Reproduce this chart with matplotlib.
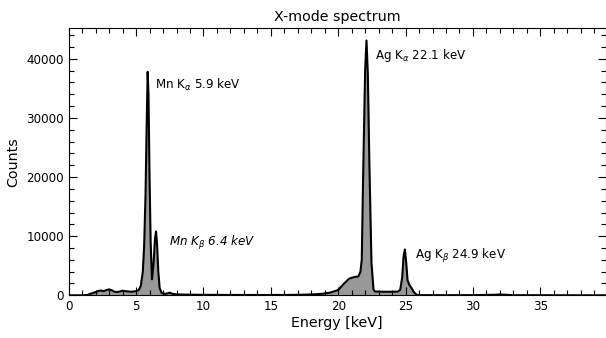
import numpy as np
import matplotlib.pyplot as plt
from matplotlib.ticker import MultipleLocator

plt.rcParams['font.family'] = 'DejaVu Sans'

# spectrum: energy (keV) and counts
energy = [0.0, 1.0, 1.4, 1.6, 1.8, 2.0, 2.2, 2.4, 2.6, 2.8, 3.0, 3.2, 3.4, 3.6, 3.8,
          4.0, 4.2, 4.4, 4.6, 4.8, 5.0, 5.2, 5.35, 5.5, 5.6, 5.7, 5.78, 5.86, 5.92,
          6.0, 6.08, 6.18, 6.3, 6.4, 6.48, 6.56, 6.65, 6.75, 6.9, 7.1, 7.3, 7.5,
          7.7, 8.0, 9.0, 10.0, 12.0, 14.0, 16.0, 17.0, 18.0, 18.8, 19.4, 20.0,
          20.4, 20.8, 21.2, 21.5, 21.65, 21.75, 21.85, 22.0, 22.1, 22.2, 22.32,
          22.47, 22.62, 22.72, 23.0, 23.5, 24.0, 24.4, 24.6, 24.75, 24.85, 24.95,
          25.05, 25.15, 25.3, 25.45, 25.6, 25.8, 26.0, 28.0, 30.0, 31.5, 32.0,
          32.5, 33.0, 39.85]
counts = [0, 0, 50, 250, 400, 550, 750, 800, 700, 900, 1000, 850, 600, 550, 650,
          780, 700, 650, 600, 650, 700, 900, 1600, 4000, 8500, 17000, 28000, 37800, 34000,
          20000, 9000, 2700, 5500, 9500, 10800, 8500, 4000, 1200, 400, 250, 300, 450,
          250, 150, 100, 80, 60, 50, 60, 80, 150, 250, 450, 900,
          1900, 2800, 3100, 3200, 4000, 6000, 20000, 38000, 43100, 37500, 21750,
          5500, 1000, 650, 620, 600, 600, 620, 900, 3000, 6500, 7750,
          5500, 2500, 1700, 1200, 600, 100, 30, 20, 30, 80, 150,
          80, 20, 0]

lines = ['Mn K$_\\alpha$ 5.9 keV', 'Mn K$_\\beta$ 6.4 keV',
         'Ag K$_\\alpha$ 22.1 keV', 'Ag K$_\\beta$ 24.9 keV']
line_pos = [(6.4, 35500), (7.45, 8800), (22.75, 40600), (25.7, 6650)]
line_style = ['normal', 'italic', 'normal', 'normal']

fig = plt.figure(figsize=(6.06, 3.38), dpi=100)
ax = fig.add_axes([0.1134, 0.1263, 0.886, 0.7907])

ax.fill_between(energy, counts, color='#999999', linewidth=0)
ax.plot(energy, counts, color='black', linewidth=1.5)

for txt, (x, y), st in zip(lines, line_pos, line_style):
    ax.text(x, y, txt, ha='left', va='center', fontsize=8.6, style=st)

ax.set_xlim(0, 39.85)
ax.set_ylim(0, 45200)
ax.xaxis.set_major_locator(MultipleLocator(5))
ax.xaxis.set_minor_locator(MultipleLocator(1))
ax.yaxis.set_major_locator(MultipleLocator(10000))
ax.yaxis.set_minor_locator(MultipleLocator(2000))
ax.tick_params(which='both', direction='in', top=True, right=True, labelsize=8.6, width=0.8)
ax.tick_params(which='major', length=6)
ax.tick_params(which='minor', length=3.5)

ax.set_xlabel('Energy [keV]', fontsize=10.3, labelpad=2)
ax.set_ylabel('Counts', fontsize=10.3)
ax.set_title('X-mode spectrum', fontsize=10.3, pad=5)

fig.savefig('out.png', dpi=100)
